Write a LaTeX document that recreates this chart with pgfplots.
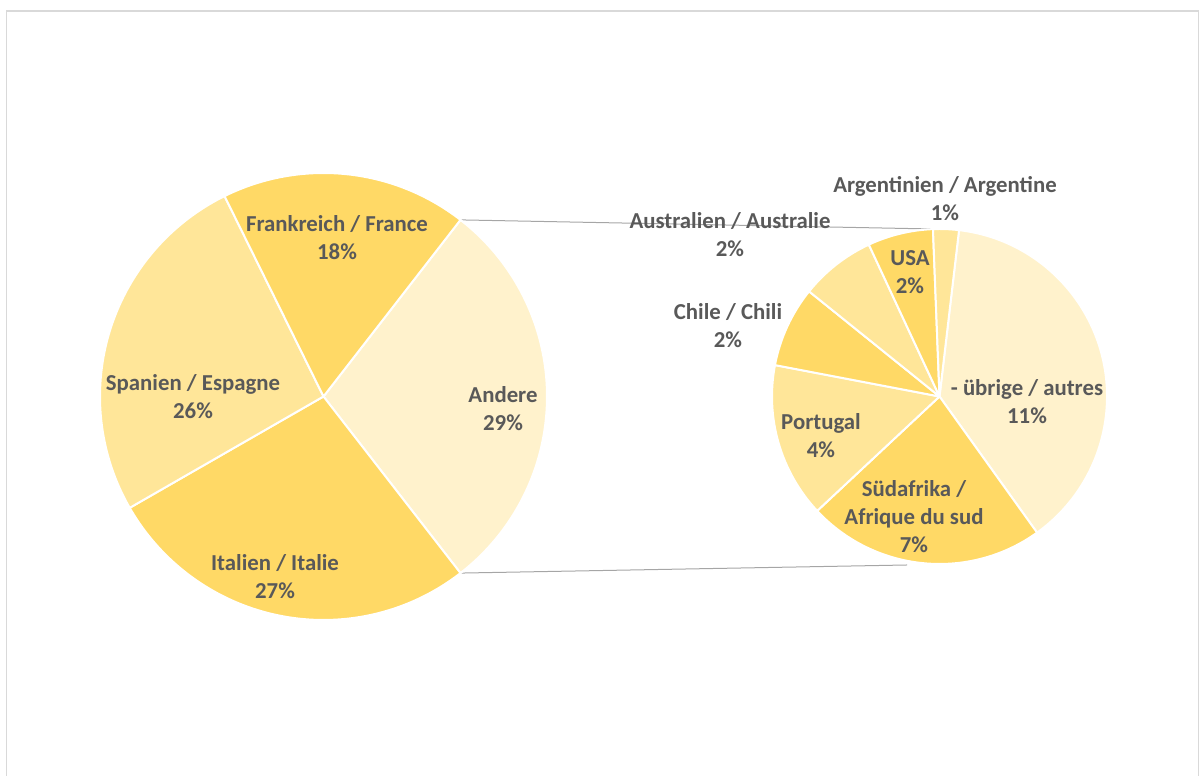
\documentclass[border=0pt]{standalone}
\usepackage{fontspec}
\setmainfont{Carlito}
\usepackage{pgfplots}
\usepackage{pgfplotstable}
\pgfplotsset{compat=1.18}

\definecolor{gold}{HTML}{FFD966}
\definecolor{goldlight}{HTML}{FFE699}
\definecolor{goldpale}{HTML}{FFF2CC}
\definecolor{labeltext}{HTML}{595959}
\definecolor{frame}{HTML}{D9D9D9}
\definecolor{connector}{HTML}{A6A6A6}

% main pie, clockwise from the split slice
\pgfplotstableread[col sep=semicolon]{
name;value;color;lx;ly
Andere;29.0;goldpale;503;367
Italien / Italie;27.2;gold;275;199
Spanien / Espagne;26.0;goldlight;193;379
Frankreich / France;17.8;gold;337;538
}\leftpie

% secondary pie (breakdown of "Andere")
\pgfplotstableread[col sep=semicolon]{
name;value;color;lx;ly
- übrige / autres;11.09;goldpale;1027;374
Südafrika /\\Afrique du sud;6.65;gold;914;259
Portugal;4.34;goldlight;821;340
Chile / Chili;2.26;gold;728;450
Australien / Australie;2.11;goldlight;730;541
USA;1.83;gold;910;504
Argentinien / Argentine;0.72;goldlight;945;577
}\rightpie

% #1 table, #2 cx, #3 cy, #4 radius, #5 start angle, #6 degrees per unit
\newcommand{\drawpie}[6]{%
  \pgfplotstablegetrowsof{#1}%
  \pgfmathtruncatemacro{\N}{\pgfplotsretval-1}%
  \xdef\curang{#5}%
  \foreach \i in {0,...,\N}{%
    \pgfplotstablegetelem{\i}{value}\of{#1}\let\v\pgfplotsretval
    \pgfplotstablegetelem{\i}{color}\of{#1}\let\c\pgfplotsretval
    \pgfmathsetmacro{\endang}{\curang-\v*#6}%
    \fill[fill=\c, draw=white, line width=1pt, line join=round]
      (axis cs:#2,#3) -- ++(\curang:#4)
      arc[start angle=\curang, end angle=\endang, radius=#4] -- cycle;
    \xdef\curang{\endang}%
  }%
  \foreach \i in {0,...,\N}{%
    \pgfplotstablegetelem{\i}{value}\of{#1}\let\v\pgfplotsretval
    \pgfplotstablegetelem{\i}{name}\of{#1}\let\n\pgfplotsretval
    \pgfplotstablegetelem{\i}{lx}\of{#1}\let\lx\pgfplotsretval
    \pgfplotstablegetelem{\i}{ly}\of{#1}\let\ly\pgfplotsretval
    \pgfmathtruncatemacro{\p}{round(\v)}%
    \node[align=center, text=labeltext, font=\fontsize{11.4}{14}\selectfont\bfseries]
      at (axis cs:\lx,\ly) {\n\\\p\%};
  }%
}

\begin{document}
\begin{tikzpicture}
\begin{axis}[
    x=0.5pt, y=0.5pt,
    xmin=0, xmax=1200,
    ymin=0, ymax=776,
    hide axis,
    clip=false
]
    % full canvas for the bounding box
    \path (axis cs:0,0) rectangle (axis cs:1200,776);

    % chart frame
    \draw[frame, line width=0.75pt] (axis cs:6.5,0) -- (axis cs:6.5,765)
        -- (axis cs:1198.5,765) -- (axis cs:1198.5,0);

    % connector lines
    \draw[connector, line width=0.5pt]
        (axis cs:323.5,379.5) ++(52.2:111.75pt) -- (axis cs:933,547);
    \draw[connector, line width=0.5pt]
        (axis cs:323.5,379.5) ++(-52.2:111.75pt) -- (axis cs:907,211);

    \pgfplotsextra{\drawpie{\leftpie}{323.5}{379.5}{111.75pt}{52.2}{3.6}}
    \pgfplotsextra{\drawpie{\rightpie}{939.5}{379.5}{83.75pt}{83.3}{12.4138}}
\end{axis}
\end{tikzpicture}
\end{document}
